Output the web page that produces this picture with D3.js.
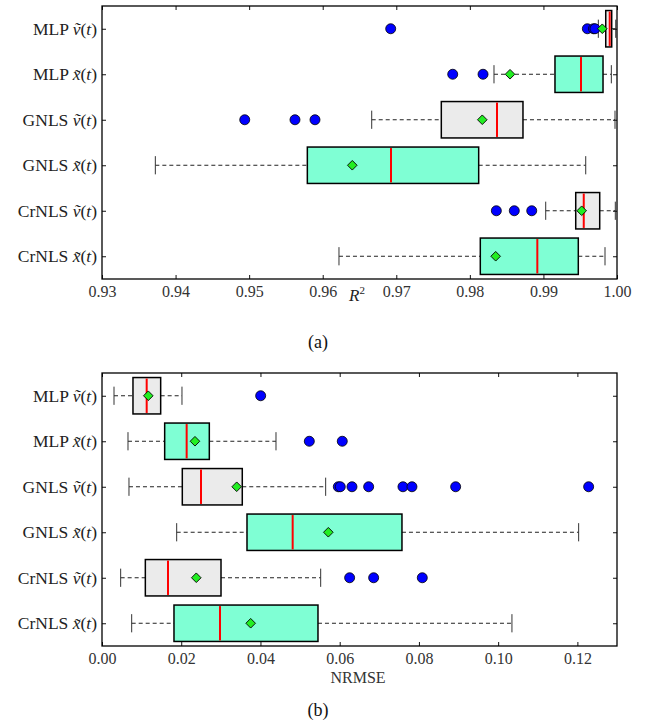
<!DOCTYPE html>
<html>
<head>
<meta charset="utf-8">
<script src="https://cdn.jsdelivr.net/npm/d3@7"></script>
<style>
  body { margin: 0; background: #fff; }
  svg text { font-family: "Liberation Serif", "DejaVu Serif", serif; }
</style>
</head>
<body>
<div id="root"></div>
<script>
// rows, top to bottom
const methods = ["MLP", "MLP", "GNLS", "GNLS", "CrNLS", "CrNLS"];
const signals = ["v", "x", "v", "x", "v", "x"];

// (a) R^2
const r2Ticks = [0.93, 0.94, 0.95, 0.96, 0.97, 0.98, 0.99, 1.00];
const r2WhiskLo = [0.99746, 0.98328, 0.96666, 0.93725, 0.99031, 0.96221];
const r2Q1 = [0.99847, 0.99157, 0.97612, 0.95791, 0.99439, 0.98142];
const r2Median = [0.99901, 0.99511, 0.98369, 0.96928, 0.99548, 0.98917];
const r2Q3 = [0.99928, 0.99810, 0.98722, 0.98120, 0.99765, 0.99474];
const r2WhiskHi = [0.99983, 0.99923, 0.99973, 0.99575, 0.99977, 0.99837];
const r2Mean = [0.99800, 0.98546, 0.98169, 0.96402, 0.99520, 0.98351];
const r2Outliers = [
    [0.96924, 0.99597, 0.99680, 0.99701],
    [0.97767, 0.98179],
    [0.94940, 0.95623, 0.95895],
    [],
    [0.98360, 0.98604, 0.98841],
    []
];

// (b) NRMSE
const nrTicks = [0.00, 0.02, 0.04, 0.06, 0.08, 0.10, 0.12];
const nrWhiskLo = [0.00303, 0.00656, 0.00681, 0.01885, 0.00471, 0.00749];
const nrQ1 = [0.00782, 0.01582, 0.02027, 0.03660, 0.01094, 0.01817];
const nrMedian = [0.01128, 0.02137, 0.02499, 0.04813, 0.01666, 0.02978];
const nrQ3 = [0.01481, 0.02709, 0.03541, 0.07572, 0.03004, 0.05452];
const nrWhiskHi = [0.02019, 0.04392, 0.05646, 0.12032, 0.05520, 0.10348];
const nrMean = [0.01169, 0.02347, 0.03400, 0.05713, 0.02380, 0.03753];
const nrOutliers = [
    [0.04005],
    [0.05233, 0.06065],
    [0.05965, 0.06015, 0.06310, 0.06731, 0.07597, 0.07824, 0.08927, 0.12284],
    [],
    [0.06251, 0.06857, 0.08085],
    []
];

const W = 645, H = 724;
const FONT = '"Liberation Serif", "DejaVu Serif", serif';
const svg = d3.select('#root').append('svg')
    .attr('width', W).attr('height', H)
    .attr('font-family', FONT);

function panel(top, opts) {
    const left = 102, right = 617, bottom = top + 273;
    const x = d3.scaleLinear().domain(opts.domain).range([left, right]);
    const y = d3.scalePoint().domain(d3.range(methods.length))
        .range([top, bottom]).padding(0.5);
    const half = y.step() * 0.4;
    const cap = half / 2;

    const g = svg.append('g');

    const rows = methods.map((m, i) => ({
        i: i, sig: signals[i],
        lo: opts.lo[i], q1: opts.q1[i], med: opts.med[i], q3: opts.q3[i],
        hi: opts.hi[i], mean: opts.mean[i], out: opts.out[i]
    }));

    // whiskers
    g.selectAll('.wl').data(rows).enter().append('line')
        .attr('x1', d => x(d.lo)).attr('x2', d => x(d.q1))
        .attr('y1', d => y(d.i)).attr('y2', d => y(d.i))
        .attr('stroke', '#222').attr('stroke-width', 1).attr('stroke-dasharray', '4,3');
    g.selectAll('.wh').data(rows).enter().append('line')
        .attr('x1', d => x(d.q3)).attr('x2', d => x(d.hi))
        .attr('y1', d => y(d.i)).attr('y2', d => y(d.i))
        .attr('stroke', '#222').attr('stroke-width', 1).attr('stroke-dasharray', '4,3');
    ['lo', 'hi'].forEach(k => {
        g.selectAll('.cap' + k).data(rows).enter().append('line')
            .attr('x1', d => x(d[k])).attr('x2', d => x(d[k]))
            .attr('y1', d => y(d.i) - cap).attr('y2', d => y(d.i) + cap)
            .attr('stroke', '#333').attr('stroke-width', 1);
    });

    // boxes
    g.selectAll('.box').data(rows).enter().append('rect')
        .attr('x', d => x(d.q1)).attr('width', d => x(d.q3) - x(d.q1))
        .attr('y', d => y(d.i) - half).attr('height', half * 2)
        .attr('fill', d => d.sig === 'x' ? '#7fffd4' : '#ebebeb')
        .attr('stroke', '#000').attr('stroke-width', 1.5);
    g.selectAll('.med').data(rows).enter().append('line')
        .attr('x1', d => x(d.med)).attr('x2', d => x(d.med))
        .attr('y1', d => y(d.i) - half + 1).attr('y2', d => y(d.i) + half - 1)
        .attr('stroke', '#ff0000').attr('stroke-width', 2);

    // outliers
    const pts = [];
    rows.forEach(d => d.out.forEach(v => pts.push({ i: d.i, v: v })));
    g.selectAll('.out').data(pts).enter().append('circle')
        .attr('cx', d => x(d.v)).attr('cy', d => y(d.i)).attr('r', 5)
        .attr('fill', '#0000ff').attr('stroke', '#000').attr('stroke-width', 0.8);

    // means
    const dm = 4.8;
    g.selectAll('.mean').data(rows).enter().append('path')
        .attr('d', d => {
            const cx = x(d.mean), cy = y(d.i);
            return `M${cx},${cy - dm}L${cx + dm},${cy}L${cx},${cy + dm}L${cx - dm},${cy}Z`;
        })
        .attr('fill', '#22ee22').attr('stroke', '#000').attr('stroke-width', 0.9);

    // axes
    const fmt = d3.format('.2f');
    const xb = g.append('g').attr('transform', `translate(0,${bottom})`)
        .call(d3.axisBottom(x).tickValues(opts.ticks).tickFormat(fmt)
            .tickSizeInner(-4).tickSizeOuter(0).tickPadding(7));
    g.append('g').attr('transform', `translate(0,${top})`)
        .call(d3.axisTop(x).tickValues(opts.ticks).tickFormat('')
            .tickSizeInner(-4).tickSizeOuter(0));
    g.append('g').attr('transform', `translate(${left},0)`)
        .call(d3.axisLeft(y).tickFormat('').tickSizeInner(-4).tickSizeOuter(0));
    g.append('g').attr('transform', `translate(${right},0)`)
        .call(d3.axisRight(y).tickFormat('').tickSizeInner(-4).tickSizeOuter(0));
    g.selectAll('.domain').remove();
    g.selectAll('.tick line').attr('stroke', '#111');
    xb.attr('font-family', FONT).attr('font-size', 16);
    xb.selectAll('text').attr('fill', '#333');

    // frame
    g.append('rect').attr('x', left).attr('y', top)
        .attr('width', right - left).attr('height', bottom - top)
        .attr('fill', 'none').attr('stroke', '#000').attr('stroke-width', 1.3);

    // row labels
    const lab = g.selectAll('.lab').data(rows).enter().append('text')
        .attr('x', left - 5).attr('y', d => y(d.i)).attr('dy', '0.33em')
        .attr('text-anchor', 'end').attr('font-size', 17.5).attr('fill', '#222');
    lab.append('tspan').text(d => methods[d.i] + ' ');
    lab.append('tspan').attr('font-style', 'italic').text(d => d.sig + '\u0303');
    lab.append('tspan').text('(');
    lab.append('tspan').attr('font-style', 'italic').text('t');
    lab.append('tspan').text(')');

    return { left, right, bottom, g };
}

const pa = panel(6, {
    domain: [0.93, 1.00], ticks: r2Ticks,
    lo: r2WhiskLo, q1: r2Q1, med: r2Median, q3: r2Q3, hi: r2WhiskHi,
    mean: r2Mean, out: r2Outliers
});
const ta = pa.g.append('text').attr('x', 357).attr('y', 301)
    .attr('text-anchor', 'middle').attr('font-size', 17).attr('fill', '#222');
ta.append('tspan').attr('font-style', 'italic').text('R');
ta.append('tspan').attr('font-size', 11).attr('dy', -7).text('2');
pa.g.append('text').attr('x', 318).attr('y', 348).attr('text-anchor', 'middle')
    .attr('font-size', 18).attr('fill', '#111').text('(a)');

const pb = panel(373, {
    domain: [0, 0.13], ticks: nrTicks,
    lo: nrWhiskLo, q1: nrQ1, med: nrMedian, q3: nrQ3, hi: nrWhiskHi,
    mean: nrMean, out: nrOutliers
});
pb.g.append('text').attr('x', 358).attr('y', 683)
    .attr('text-anchor', 'middle').attr('font-size', 16).attr('fill', '#333').text('NRMSE');
pb.g.append('text').attr('x', 318).attr('y', 716).attr('text-anchor', 'middle')
    .attr('font-size', 18).attr('fill', '#111').text('(b)');
</script>
</body>
</html>
